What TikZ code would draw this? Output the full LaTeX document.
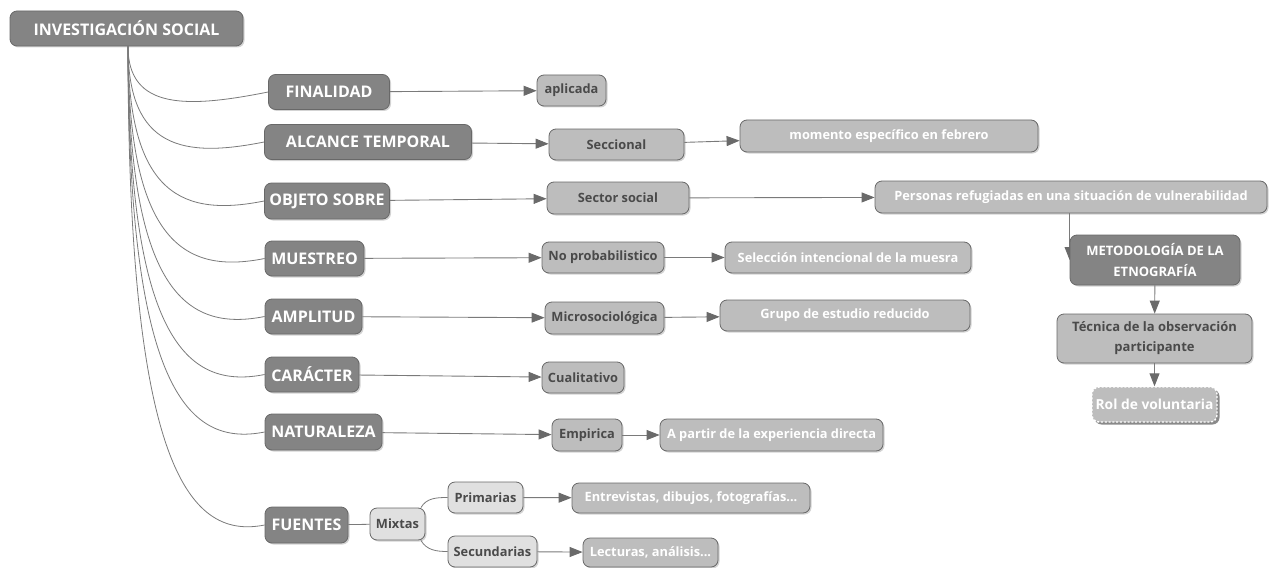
\documentclass[tikz,border=0pt]{standalone}
\usepackage{fontspec}
\setmainfont{Open Sans}
\usetikzlibrary{arrows.meta,shadows,backgrounds}
\definecolor{oscuro}{HTML}{848484}
\definecolor{medio}{HTML}{BDBDBD}
\definecolor{claro}{HTML}{E0E0E0}
\definecolor{borde}{HTML}{686868}
\definecolor{letra}{HTML}{4A4A4A}
\definecolor{linea}{HTML}{7A7A7A}
\definecolor{punta}{HTML}{6A6A6A}

\begin{document}
\begin{tikzpicture}[x=1pt, y=-1pt,
		box/.style={draw=borde, line width=0.8pt, rounded corners=7pt, inner sep=2pt, align=center,
			drop shadow={shadow xshift=1.5pt, shadow yshift=-1.5pt, opacity=0.35}},
		cat/.style={box, fill=oscuro, text=white, font=\bfseries\fontsize{16}{19}\selectfont},
		val/.style={box, fill=medio, text=letra, font=\bfseries\fontsize{12.8}{15}\selectfont},
		det/.style={box, fill=medio, text=white, font=\bfseries\fontsize{12.8}{15}\selectfont},
		src/.style={box, fill=claro, text=letra, font=\bfseries\fontsize{12.8}{15}\selectfont},
		branch/.style={draw=linea, line width=0.8pt},
		link/.style={draw=linea, line width=0.9pt, -{Triangle[length=13pt, width=10pt, color=punta]}}]
	\useasboundingbox (0, 0) rectangle (1273, 567);
	\node[cat, minimum width=233pt, minimum height=35pt] (root)at(126.5, 28.5) {INVESTIGACIÓN SOCIAL};
	\node[cat, minimum width=121pt, minimum height=35pt] (fin)at(329, 92) {FINALIDAD};
	\node[cat, minimum width=207pt, minimum height=35pt] (alc)at(368, 142) {ALCANCE TEMPORAL};
	\node[cat, minimum width=125pt, minimum height=36pt] (obj)at(327, 201) {OBJETO SOBRE};
	\node[cat, minimum width=99pt, minimum height=35pt] (mue)at(314.5, 258.5) {MUESTREO};
	\node[cat, minimum width=97pt, minimum height=35pt] (amp)at(313.5, 316.5) {AMPLITUD};
	\node[cat, minimum width=94pt, minimum height=35pt] (car)at(312, 374.5) {CARÁCTER};
	\node[cat, minimum width=117pt, minimum height=36pt] (nat)at(323.5, 432) {NATURALEZA};
	\node[cat, minimum width=83pt, minimum height=36pt] (fue)at(306.5, 525) {FUENTES};

	\node[val, minimum width=69pt, minimum height=31pt] (apl)at(571.5, 90.5) {aplicada};
	\node[val, minimum width=135pt, minimum height=31pt] (sec)at(616.5, 144.5) {Seccional};
	\node[val, minimum width=142pt, minimum height=32pt] (sso)at(618, 198) {Sector social};
	\node[val, minimum width=122pt, minimum height=31pt] (nop)at(603, 257.5) {No probabilistico};
	\node[val, minimum width=119pt, minimum height=32pt] (mic)at(604.5, 318) {Microsociológica};
	\node[val, minimum width=82pt, minimum height=31pt] (cua)at(583, 377.5) {Cualitativo};
	\node[val, minimum width=70pt, minimum height=32pt] (emp)at(587, 435) {Empirica};

	\node[src, minimum width=55pt, minimum height=32pt] (mix)at(397.5, 524) {Mixtas};
	\node[src, minimum width=75pt, minimum height=31pt] (pri)at(485.5, 497.5) {Primarias};
	\node[src, minimum width=89pt, minimum height=31pt] (scd)at(492.5, 551.5) {Secundarias};

	\node[det, minimum width=298pt, minimum height=32pt] (mom)at(889, 136) {momento específico en febrero};
	\node[det, minimum width=392pt, minimum height=32pt] (per)at(1071, 197) {Personas refugiadas en una situación de vulnerabilidad};
	\node[det, minimum width=246pt, minimum height=31pt] (sel)at(848, 257.5) {Selección intencional de la muesra};
	\node[det, minimum width=250pt, minimum height=31pt] (gru)at(845, 315.5) {Grupo de estudio reducido};
	\node[det, minimum width=223pt, minimum height=32pt] (exp)at(771.5, 435) {A partir de la experiencia directa};
	\node[det, minimum width=238pt, minimum height=30pt] (ent)at(691, 498) {Entrevistas, dibujos, fotografías...};
	\node[det, minimum width=135pt, minimum height=29pt] (lec)at(650.5, 552.5) {Lecturas, análisis...};

	\node[cat, font=\bfseries\fontsize{13}{21}\selectfont, minimum width=170pt, minimum height=50pt] (met)at(1155, 260) {METODOLOGÍA DE LA\\ETNOGRAFÍA};
	\node[val, font=\bfseries\fontsize{13}{20}\selectfont, minimum width=195pt, minimum height=49pt] (tec)at(1154.5, 338.5) {Técnica de la observación\\participante};
	\node[det, draw=white, line width=1.4pt, dash pattern=on 2pt off 1.8pt, font=\bfseries\fontsize{13.8}{16}\selectfont, drop shadow={shadow xshift=2.5pt, shadow yshift=-2.5pt, opacity=0.9}, minimum width=125pt, minimum height=35pt] (rol)at(1154.5, 404.5) {Rol de voluntaria};

	\begin{scope}[on background layer]
		\foreach \n/\c in {fin/64, alc/103, obj/150, mue/196, amp/242, car/288, nat/335, fue/408}
			\draw[branch] ([xshift=1.5pt]root.south) .. controls +(0, \c) and +(-80, 16) .. (\n.west);
		\draw[link] (fin) -- (apl);
		\draw[link] (alc) -- (sec);
		\draw[link] (obj) -- (sso);
		\draw[link] (mue) -- (nop);
		\draw[link] (amp) -- (mic);
		\draw[link] (car) -- (cua);
		\draw[link] (nat) -- (emp);
		\draw[link] (sec) -- (mom);
		\draw[link] (sso) -- (per);
		\draw[link] (nop) -- (sel);
		\draw[link] (mic) -- (gru);
		\draw[link] (emp) -- (exp);
		\draw[branch] (fue) -- (mix);
		\draw[branch] (mix.35) to[out=60, in=180] (pri.west);
		\draw[branch] (mix.-35) to[out=-60, in=180] (scd.west);
		\draw[link] (pri) -- (ent);
		\draw[link] (scd) -- (lec);
		\draw[link] (per.south -| met.west) -- (met.west);
		\draw[link] (met) -- (tec);
		\draw[link] (tec) -- (rol);
	\end{scope}
\end{tikzpicture}
\end{document}
